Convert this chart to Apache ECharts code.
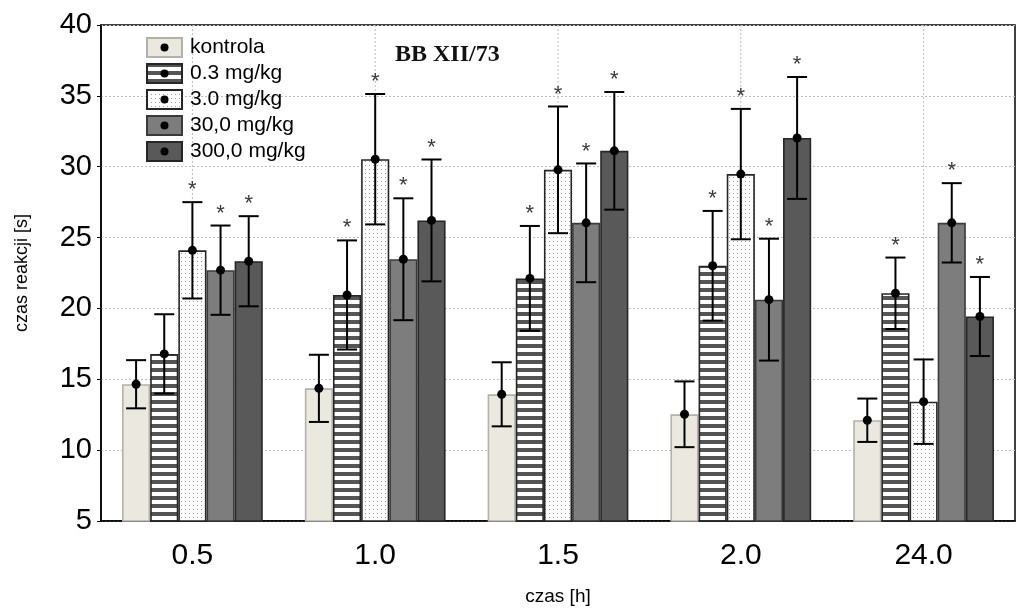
<!DOCTYPE html>
<html><head><meta charset="utf-8">
<script src="https://cdn.jsdelivr.net/npm/echarts@6/dist/echarts.min.js"></script>
<style>html,body{margin:0;padding:0;background:#fff}#c{width:1019px;height:610px}</style>
</head><body><div id="c"></div>
<script>
// ---- data ----
const categories = ['0.5', '1.0', '1.5', '2.0', '24.0'];
const seriesNames = ['kontrola', '0.3 mg/kg', '3.0 mg/kg', '30,0 mg/kg', '300,0 mg/kg'];
const yTicks = [5, 10, 15, 20, 25, 30, 35, 40];

const kontrolaMean = [14.65, 14.36, 13.94, 12.53, 12.11];
const kontrolaErr  = [1.70, 2.37, 2.26, 2.32, 1.53];
const kontrolaSig  = [0, 0, 0, 0, 0];

const dose03Mean = [16.79, 20.95, 22.12, 23.01, 21.07];
const dose03Err  = [2.80, 3.85, 3.70, 3.87, 2.52];
const dose03Sig  = [0, 1, 1, 1, 1];

const dose3Mean = [24.10, 30.53, 29.78, 29.48, 13.42];
const dose3Err  = [3.40, 4.60, 4.47, 4.60, 2.98];
const dose3Sig  = [1, 1, 1, 1, 0];

const dose30Mean = [22.70, 23.47, 26.04, 20.62, 26.04];
const dose30Err  = [3.15, 4.30, 4.19, 4.30, 2.80];
const dose30Sig  = [1, 1, 1, 1, 1];

const dose300Mean = [23.33, 26.21, 31.12, 32.03, 19.43];
const dose300Err  = [3.18, 4.30, 4.15, 4.30, 2.79];
const dose300Sig  = [1, 1, 1, 1, 1];

const means = [kontrolaMean, dose03Mean, dose3Mean, dose30Mean, dose300Mean];
const errs  = [kontrolaErr, dose03Err, dose3Err, dose30Err, dose300Err];
const sigs  = [kontrolaSig, dose03Sig, dose3Sig, dose30Sig, dose300Sig];

// ---- styles ----
const GAP = 0.23;
const FONT = '"Liberation Sans", Arial, sans-serif';

function mkCanvas(w, h, draw) {
  const c = document.createElement('canvas'); c.width = w; c.height = h;
  draw(c.getContext('2d')); return c;
}
const stripe = mkCanvas(8, 8, g => { g.fillStyle = '#fff'; g.fillRect(0,0,8,8); g.fillStyle = '#555'; g.fillRect(0,0,8,4); });
const dots = mkCanvas(4, 4, g => { g.fillStyle = '#fff'; g.fillRect(0,0,4,4); g.fillStyle = '#9c9c9c'; g.fillRect(1,1,1,1); });

const fills = ['#ebe9df', {image: stripe, repeat: 'repeat'}, {image: dots, repeat: 'repeat'}, '#7d7d7d', '#595959'];
const borders = ['#b3b1a8', '#262626', '#262626', '#3a3a3a', '#262626'];

function legendIcon(i) {
  const W = 37, H = 21;
  const c = mkCanvas(W, H, g => {
    if (i === 1) g.fillStyle = g.createPattern(stripe, 'repeat');
    else if (i === 2) g.fillStyle = g.createPattern(dots, 'repeat');
    else g.fillStyle = fills[i];
    g.fillRect(0, 0, W, H);
    g.strokeStyle = borders[i]; g.lineWidth = 2; g.strokeRect(1, 1, W - 2, H - 2);
    g.fillStyle = '#000'; g.beginPath(); g.arc(W/2, H/2, 4, 0, Math.PI*2); g.fill();
  });
  return 'image://' + c.toDataURL();
}

const series = [];
// vertical dotted gridlines at category centres
series.push({
  type: 'custom', name: 'vgrid', silent: true, z: 1,
  data: categories.map((c, i) => [i, 40]),
  renderItem: (params, api) => {
    const x = api.coord([api.value(0), 40])[0];
    const cs = params.coordSys;
    return {type: 'line', shape: {x1: x, y1: cs.y, x2: x, y2: cs.y + cs.height},
            style: {stroke: '#bdbdbd', lineWidth: 1, lineDash: [2, 2]}};
  }
});
seriesNames.forEach((name, k) => {
  series.push({
    type: 'bar', name: name, z: 2,
    data: means[k],
    barGap: '0%', barCategoryGap: (GAP * 100) + '%',
    itemStyle: {color: fills[k], borderColor: borders[k], borderWidth: 1.6},
    emphasis: {disabled: true}
  });
});
seriesNames.forEach((name, k) => {
  series.push({
    type: 'custom', name: name + ' err', z: 3, silent: true,
    data: means[k].map((m, i) => [i, m, m - errs[k][i], m + errs[k][i], sigs[k][i]]),
    renderItem: (params, api) => {
      const idx = api.value(0), m = api.value(1), lo = api.value(2), hi = api.value(3), s = api.value(4);
      const band = api.size([1, 0])[0];
      const bw = band * (1 - GAP) / 5;
      const pm = api.coord([idx, m]);
      const cx = pm[0] + (k - 2) * bw;
      const yl = api.coord([idx, lo])[1], yh = api.coord([idx, hi])[1];
      const st = {stroke: '#000', lineWidth: 2};
      const ch = [
        {type: 'line', shape: {x1: cx, y1: yl, x2: cx, y2: yh}, style: st},
        {type: 'line', shape: {x1: cx - 10, y1: yh, x2: cx + 10, y2: yh}, style: st},
        {type: 'line', shape: {x1: cx - 10, y1: yl, x2: cx + 10, y2: yl}, style: st},
        {type: 'circle', shape: {cx: cx, cy: pm[1], r: 4.5}, style: {fill: '#000'}}
      ];
      if (s) ch.push({type: 'text', style: {text: '*', x: cx, y: yh - 1, align: 'center', verticalAlign: 'bottom',
                      fill: '#3a3a3a', font: '22px ' + FONT}});
      return {type: 'group', children: ch};
    }
  });
});

const chart = echarts.init(document.getElementById('c'));
chart.setOption({
  animation: false,
  backgroundColor: '#fff',
  title: {text: 'BB XII/73', left: 390, top: 38,
          textStyle: {fontFamily: '"Liberation Serif", "DejaVu Serif", serif', fontWeight: 'bold', fontSize: 24, color: '#111'}},
  legend: {
    orient: 'vertical', left: 141, top: 32, itemWidth: 37, itemHeight: 21, itemGap: 5,
    data: seriesNames.map((n, i) => ({name: n, icon: legendIcon(i)})),
    textStyle: {fontFamily: FONT, fontSize: 21, color: '#000', padding: [0, 0, 0, 2]},
    selectedMode: false
  },
  grid: {left: 101, right: 4, top: 25, bottom: 89, show: true, borderColor: '#000', borderWidth: 1.5,
         containLabel: false, outerBoundsMode: 'none'},
  xAxis: {
    type: 'category', data: categories,
    axisLine: {lineStyle: {color: '#000', width: 1.5}},
    axisTick: {inside: true, length: 4, alignWithLabel: true, lineStyle: {color: '#000'}},
    axisLabel: {fontFamily: FONT, fontSize: 30, color: '#000', margin: 20},
    name: 'czas [h]', nameLocation: 'middle', nameGap: 66,
    nameTextStyle: {fontFamily: FONT, fontSize: 19, color: '#000'}
  },
  yAxis: {
    type: 'value', min: yTicks[0], max: yTicks[yTicks.length - 1], interval: 5,
    axisLine: {show: true, lineStyle: {color: '#000', width: 1.5}},
    axisTick: {show: true, length: 4, lineStyle: {color: '#000'}},
    axisLabel: {fontFamily: FONT, fontSize: 29, color: '#000', margin: 9},
    splitLine: {show: true, lineStyle: {color: '#bdbdbd', type: [2, 2], width: 1}},
    name: 'czas reakcji [s]', nameLocation: 'middle', nameGap: 70,
    nameTextStyle: {fontFamily: FONT, fontSize: 18, color: '#000'}
  },
  series: series
});
</script></body></html>
